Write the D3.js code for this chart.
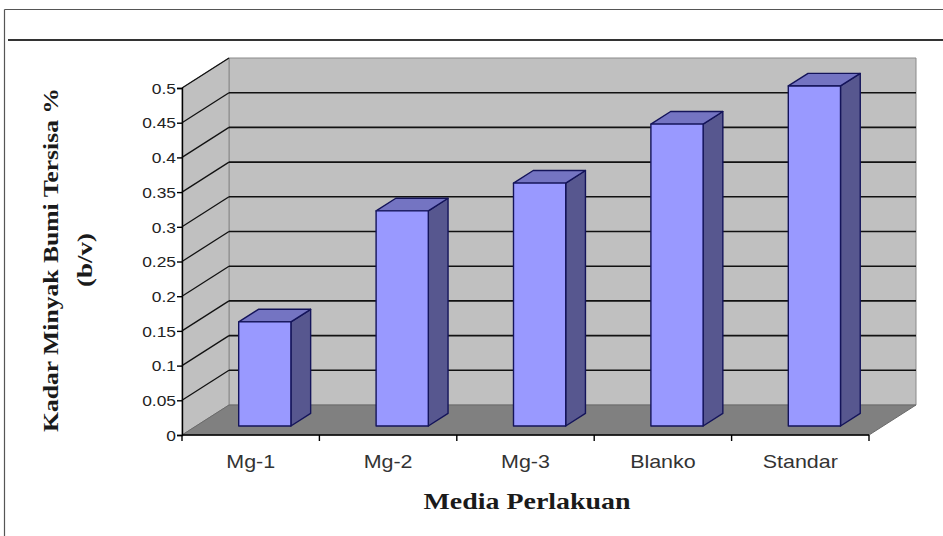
<!DOCTYPE html>
<html>
<head>
<meta charset="utf-8">
<script src="https://cdn.jsdelivr.net/npm/d3@7"></script>
<style>
  html, body { margin: 0; padding: 0; background: #fff; }
  svg { display: block; }
</style>
</head>
<body>
<svg id="chart" width="943" height="536"></svg>
<script>
// Data
const categories = ["Mg-1", "Mg-2", "Mg-3", "Blanko", "Standar"];
const values = [0.15, 0.31, 0.35, 0.435, 0.49];
const tickValues = [0, 0.05, 0.1, 0.15, 0.2, 0.25, 0.3, 0.35, 0.4, 0.45, 0.5];
const xTitle = "Media Perlakuan";
const yTitleLines = ["Kadar Minyak Bumi Tersisa %", "(b/v)"];

const svg = d3.select("#chart");
const sans = "'Liberation Sans', Arial, sans-serif";
const serif = "'Liberation Serif', 'Times New Roman', serif";
const widen = 1.16; // text in this chart is set slightly wide

// Outer frame and header rule
svg.append("line").attr("x1", 4.5).attr("y1", 9.5).attr("x2", 943).attr("y2", 9.5)
  .attr("stroke", "#555").attr("stroke-width", 1.2);
svg.append("line").attr("x1", 4.5).attr("y1", 9.5).attr("x2", 4.5).attr("y2", 536)
  .attr("stroke", "#555").attr("stroke-width", 1.2);
svg.append("line").attr("x1", 8).attr("y1", 40).attr("x2", 943).attr("y2", 40)
  .attr("stroke", "#333").attr("stroke-width", 2.2);

// Plot geometry (front plane + depth offset)
const x0 = 182, x1 = 869;
const depth = { dx: 47, dy: -30 };
const y = d3.scaleLinear().domain([0, 0.5]).range([435, 88]);
const x = d3.scaleBand().domain(categories).range([x0, x1])
  .paddingInner(0.62).paddingOuter(0.31);

const ymax = tickValues[tickValues.length - 1];
const pt = (px, py, f) => [px + depth.dx * f, py + depth.dy * f];
const poly = pts => pts.map(p => p.join(",")).join(" ");

const wall = "#c0c0c0", floor = "#808080";

// Back wall
svg.append("polygon")
  .attr("points", poly([pt(x0, y(0), 1), pt(x1, y(0), 1), pt(x1, y(ymax), 1), pt(x0, y(ymax), 1)]))
  .attr("fill", wall).attr("stroke", "#8a8a8a").attr("stroke-width", 1);
// Side wall
svg.append("polygon")
  .attr("points", poly([[x0, y(0)], pt(x0, y(0), 1), pt(x0, y(ymax), 1), [x0, y(ymax)]]))
  .attr("fill", wall).attr("stroke", "#8a8a8a").attr("stroke-width", 1);

// Gridlines on back wall and side wall
const grid = svg.append("g").attr("stroke", "#111").attr("stroke-width", 1.6).attr("fill", "none");
tickValues.filter(v => v > 0 && v < ymax).forEach(v => {
  const b0 = pt(x0, y(v), 1), b1 = pt(x1, y(v), 1);
  grid.append("line").attr("x1", b0[0]).attr("y1", b0[1]).attr("x2", b1[0]).attr("y2", b1[1]);
});
tickValues.filter(v => v > 0).forEach(v => {
  const b0 = pt(x0, y(v), 1);
  grid.append("line").attr("x1", x0).attr("y1", y(v)).attr("x2", b0[0]).attr("y2", b0[1])
    .attr("stroke-width", 1.3);
});

// Floor
svg.append("polygon")
  .attr("points", poly([[x0, y(0)], [x1, y(0)], pt(x1, y(0), 1), pt(x0, y(0), 1)]))
  .attr("fill", floor).attr("stroke", "#6a6a6a").attr("stroke-width", 1);

// Bars (front face at depth fraction fa, back at fb)
const fa = 0.3, fb = 0.72;
const edge = "#14145a";
const bars = svg.append("g");
categories.forEach((c, i) => {
  const l = x(c), r = x(c) + x.bandwidth();
  const top = y(values[i]), bot = y(0);
  const g = bars.append("g").attr("stroke", edge).attr("stroke-width", 1.4).attr("stroke-linejoin", "round");
  // side face
  g.append("polygon")
    .attr("points", poly([pt(r, bot, fa), pt(r, bot, fb), pt(r, top, fb), pt(r, top, fa)]))
    .attr("fill", "#57578f");
  // top face
  g.append("polygon")
    .attr("points", poly([pt(l, top, fa), pt(r, top, fa), pt(r, top, fb), pt(l, top, fb)]))
    .attr("fill", "#7474c2");
  // front face
  g.append("polygon")
    .attr("points", poly([pt(l, bot, fa), pt(r, bot, fa), pt(r, top, fa), pt(l, top, fa)]))
    .attr("fill", "#9999ff");
});

// Value axis
const yAxis = svg.append("g").attr("transform", `translate(${x0},0)`)
  .call(d3.axisLeft(y).tickValues(tickValues).tickSize(5).tickPadding(3)
    .tickFormat(d => d === 0 ? "0" : String(+d.toFixed(2))));
yAxis.select(".domain").attr("stroke", "#000").attr("stroke-width", 1.4);
yAxis.selectAll(".tick line").attr("stroke", "#000").attr("stroke-width", 1.4);
yAxis.selectAll(".tick text")
  .attr("x", 0).attr("dy", "0.35em")
  .attr("transform", `translate(-6,0) scale(${widen},1)`)
  .attr("text-anchor", "end").attr("fill", "#222")
  .style("font-family", sans).style("font-size", "15px");

// Category axis along the front edge of the floor
const xa = svg.append("g");
xa.append("line").attr("x1", x0).attr("x2", x1).attr("y1", y(0)).attr("y2", y(0))
  .attr("stroke", "#000").attr("stroke-width", 1.4);
const boundaries = [x0].concat(categories.map(c => x(c) + x.bandwidth() + x.step() * x.paddingInner() / 2));
boundaries[boundaries.length - 1] = x1;
boundaries.forEach(b => {
  xa.append("line").attr("x1", b).attr("x2", b).attr("y1", y(0)).attr("y2", y(0) + 6)
    .attr("stroke", "#000").attr("stroke-width", 1.4);
});
categories.forEach(c => {
  xa.append("g").attr("transform", `translate(${x(c) + x.bandwidth() / 2},468) scale(${widen},1)`)
    .append("text").attr("text-anchor", "middle").attr("fill", "#333")
    .style("font-family", sans).style("font-size", "18.5px")
    .text(c);
});

// Axis titles
svg.append("text").attr("x", 527).attr("y", 509).attr("text-anchor", "middle")
  .attr("textLength", 207).attr("lengthAdjust", "spacingAndGlyphs")
  .style("font-family", serif)
  .style("font-weight", "bold").style("font-size", "24px").attr("fill", "#1a1a1a")
  .text(xTitle);

const yt = svg.append("g").attr("transform", "translate(0,260) rotate(-90)");
yt.append("text").attr("x", 0).attr("y", 58).attr("text-anchor", "middle")
  .attr("textLength", 344).attr("lengthAdjust", "spacingAndGlyphs")
  .style("font-family", serif)
  .style("font-weight", "bold").style("font-size", "21px").attr("fill", "#1a1a1a")
  .text(yTitleLines[0]);
yt.append("text").attr("x", 0).attr("y", 92).attr("text-anchor", "middle")
  .attr("textLength", 54).attr("lengthAdjust", "spacingAndGlyphs")
  .style("font-family", serif)
  .style("font-weight", "bold").style("font-size", "21px").attr("fill", "#1a1a1a")
  .text(yTitleLines[1]);
</script>
</body>
</html>
